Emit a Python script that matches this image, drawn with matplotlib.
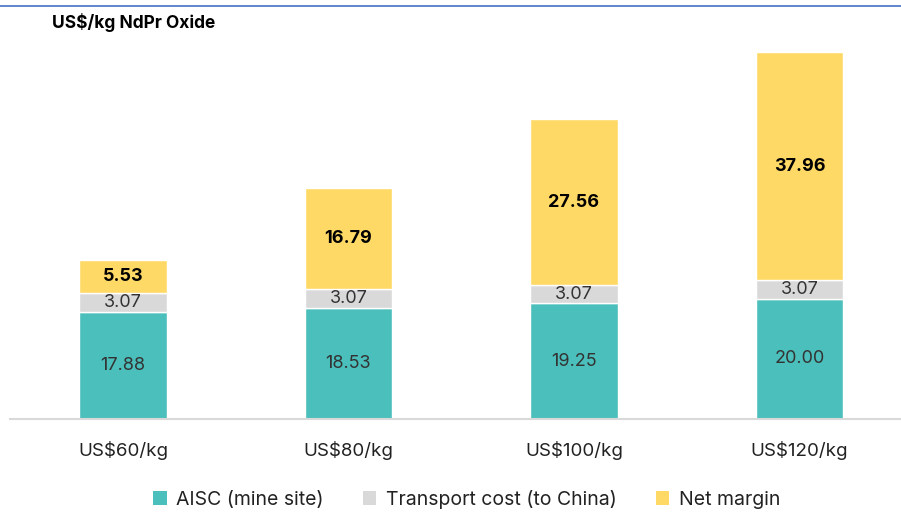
import matplotlib.pyplot as plt
import numpy as np
from matplotlib.lines import Line2D
from matplotlib.patches import Patch

plt.rcParams['font.family'] = ['Inter', 'DejaVu Sans']

categorias = ['US$60/kg', 'US$80/kg', 'US$100/kg', 'US$120/kg']
aisc = [17.88, 18.53, 19.25, 20.00]
transporte = [3.07, 3.07, 3.07, 3.07]
margen = [5.53, 16.79, 27.56, 37.96]

series = ['AISC (mine site)', 'Transport cost (to China)', 'Net margin']
colores = ['#4BBFBB', '#D9D9D9', '#FFD966']

fig = plt.figure(figsize=(9.01, 5.13), dpi=100)
ax = fig.add_axes([10 / 901, 94 / 513, 891 / 901, 65 * 6.01 / 513])

x = np.arange(len(categorias))
ancho = 0.39
abajo = np.zeros(len(categorias))
for valores, color, nombre in zip([aisc, transporte, margen], colores, series):
    barras = ax.bar(x, valores, ancho, bottom=abajo, color=color,
                    edgecolor='white', linewidth=1, label=nombre)
    for b, v in zip(barras, valores):
        cy = b.get_y() + b.get_height() / 2
        if nombre == 'Net margin':
            ax.text(b.get_x() + b.get_width() / 2, cy, f'{v:.2f}', ha='center',
                    va='center', fontsize=13, fontweight='bold', color='black')
        else:
            ax.text(b.get_x() + b.get_width() / 2, cy, f'{v:.2f}', ha='center',
                    va='center', fontsize=13, color='#333333')
    abajo += np.array(valores)

ax.set_xlim(-0.501, 3.45)
ax.set_ylim(0, 65)
ax.set_xticks(x)
ax.set_xticklabels(categorias, fontsize=13.5, color='#222222')
ax.tick_params(axis='x', length=0, pad=16)
ax.set_yticks([])
for lado in ['top', 'right', 'left']:
    ax.spines[lado].set_visible(False)
ax.spines['bottom'].set_color('#D9D9D9')
ax.spines['bottom'].set_linewidth(1.5)

manijas = [Patch(facecolor=c, edgecolor='none', label=s) for c, s in zip(colores, series)]
fig.legend(handles=manijas, loc='center', bbox_to_anchor=(0.518, 0.027), ncol=3,
           frameon=False, fontsize=14, handlelength=0.7, handleheight=0.7,
           handletextpad=0.5, columnspacing=2.0, labelcolor='#222222')

fig.text(52 / 901, 1 - 22 / 513, 'US$/kg NdPr Oxide', fontsize=12.5, fontweight='bold',
         va='center', ha='left')
fig.add_artist(Line2D([0, 1], [1 - 6 / 513, 1 - 6 / 513], color='#4472C4',
                      linewidth=1.2, transform=fig.transFigure))

fig.savefig('out.png', dpi=100)
